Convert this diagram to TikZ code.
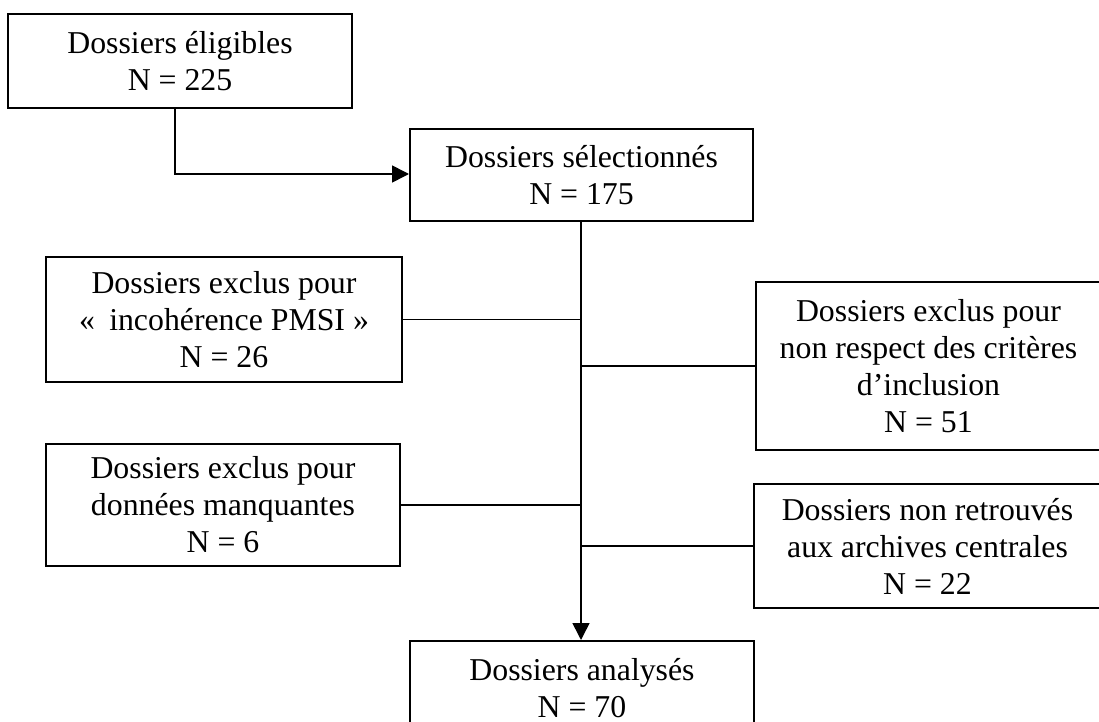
\documentclass[tikz,border=0pt]{standalone}
\usepackage{fontspec}
\setmainfont{Liberation Serif}
\usetikzlibrary{arrows.meta}
\tikzset{
  box/.style={draw, line width=1pt, inner sep=0pt, align=center,
    font=\fontsize{15.9}{18.5}\selectfont},
  link/.style={line width=0.8pt},
  arr/.style={line width=0.8pt, -{Triangle[length=8.5pt,width=8.5pt]}}
}
\begin{document}
\begin{tikzpicture}[x=0.5pt,y=-0.5pt]
\clip (0,0) rectangle (1099,722);
\fill[white] (0,0) rectangle (1099,722);
\node[box, minimum width=172pt, minimum height=47pt] (b1) at (180,61) {Dossiers éligibles\\N = 225};
\node[box, minimum width=171.5pt, minimum height=46pt] (b2) at (581.5,175) {Dossiers sélectionnés\\N = 175};
\node[box, minimum width=178pt, minimum height=62.5pt] (b3) at (224,319.5) {Dossiers exclus pour\\«\hspace{0.45em}incohérence PMSI »\\N = 26};
\node[box, minimum width=172.5pt, minimum height=84pt] (b4) at (928.5,366) {Dossiers exclus pour\\non respect des critères\\d’inclusion\\N = 51};
\node[box, minimum width=177pt, minimum height=61pt] (b5) at (223,505) {Dossiers exclus pour\\données manquantes\\N = 6};
\node[box, minimum width=173.5pt, minimum height=62pt] (b6) at (927.5,546) {Dossiers non retrouvés\\aux archives centrales\\N = 22};
\node[box, minimum width=172pt, minimum height=47.5pt] (b7) at (582,688.5) {Dossiers analysés\\N = 70};
\coordinate (s) at (581,0);
\coordinate (k) at (175,174);
\draw[arr] (b1.south -| k) -- (k) -- (b2.west |- k);
\draw[arr] (b2.south -| s) -- (b7.north -| s);
\draw[link] (b3.east) -- (b3.east -| s);
\draw[link] (b4.west) -- (b4.west -| s);
\draw[link] (b5.east) -- (b5.east -| s);
\draw[link] (b6.west) -- (b6.west -| s);
\end{tikzpicture}
\end{document}
